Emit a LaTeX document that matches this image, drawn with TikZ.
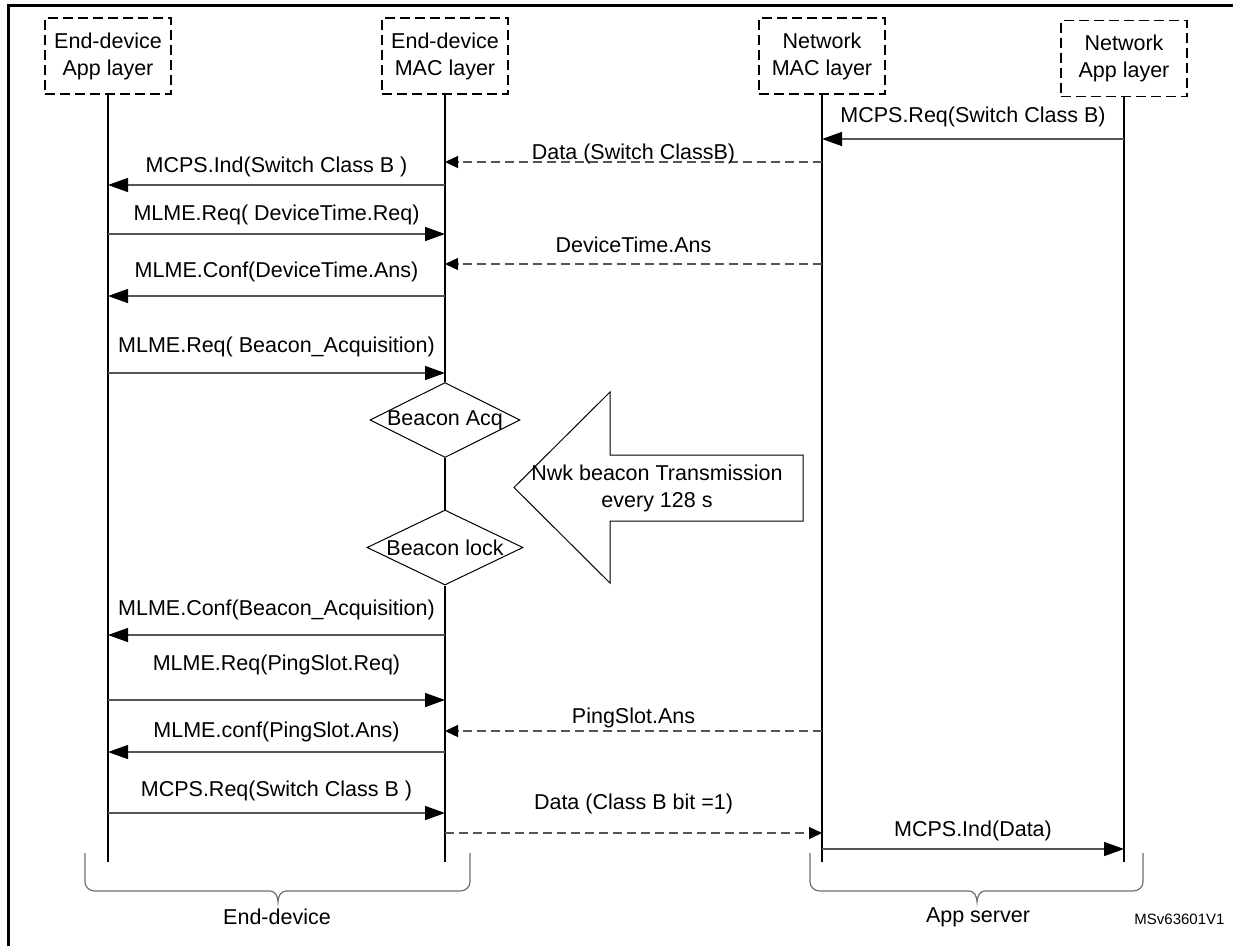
\documentclass[tikz,border=0pt]{standalone}
\usepackage{fontspec}
\setmainfont{Liberation Sans}
\usetikzlibrary{arrows.meta,shapes.geometric}
\definecolor{msgline}{RGB}{85,85,85}
\definecolor{bracegray}{RGB}{110,110,110}
\begin{document}
\begin{tikzpicture}[x=1pt,y=-1pt,
  every node/.style={font=\fontsize{21.5}{27}\selectfont},
  layerbox/.style={draw, dash pattern=on 10pt off 5pt, line width=1.1pt,
    minimum width=126pt, minimum height=76pt, align=center, inner sep=0pt},
  life/.style={line width=1.2pt},
  msg/.style={draw=msgline, line width=1.5pt,
    -{Triangle[length=20pt,width=14pt,color=black]}},
  reply/.style={draw=msgline, line width=1.3pt, dash pattern=on 9pt off 5pt,
    -{Triangle[length=13pt,width=12pt,color=black]}},
  lbl/.style={pos=0.5, inner sep=0pt, text height=15pt, text depth=0pt},
  dia/.style={draw, shape=diamond, line width=1pt, inner sep=0pt},
  brace/.style={draw=bracegray, line width=1.2pt},
]
\useasboundingbox (0,0) rectangle (1233,946);

% outer frame
\draw[line width=3pt] (8,946) -- (8,5) -- (1233,5);

% layer boxes
\node[layerbox] (eapp) at (108,56)   {End-device\\App layer};
\node[layerbox] (emac) at (445,56)   {End-device\\MAC layer};
\node[layerbox] (nmac) at (822,56)   {Network\\MAC layer};
\node[layerbox] (napp) at (1124,58.5) {Network\\App layer};

% lifeline ends
\coordinate (eappEnd) at (108,862);
\coordinate (emacEnd) at (445,862);
\coordinate (nmacEnd) at (822,862);
\coordinate (nappEnd) at (1124,862);

% beacon states on the end-device MAC lifeline
\node[dia, minimum width=150pt, minimum height=75pt,
      label={[inner sep=0pt]center:Beacon Acq}] (acq) at (445,420) {};
\node[dia, minimum width=156pt, minimum height=75pt,
      label={[inner sep=0pt]center:Beacon lock}] (lock) at (445,547.5) {};

% lifelines
\draw[life] (eapp.south) -- (eappEnd);
\draw[life] (emac.south) -- (acq.north);
\draw[life] (acq.south) -- (lock.north);
\draw[life] (lock.south) -- (emacEnd);
\draw[life] (nmac.south) -- (nmacEnd);
\draw[life] (napp.south) -- (nappEnd);

% messages
\draw[msg] (napp |- 0,139) -- node[lbl,yshift=24pt]{MCPS.Req(Switch Class B)} (nmac |- 0,139);
\draw[reply] (nmac |- 0,162) -- node[lbl,yshift=10pt]{Data (Switch ClassB)} (emac |- 0,162);
\draw[msg] (emac |- 0,185) -- node[lbl,yshift=20pt]{MCPS.Ind(Switch Class B )} (eapp |- 0,185);
\draw[msg] (eapp |- 0,234) -- node[lbl,yshift=21pt]{MLME.Req( DeviceTime.Req)} (emac |- 0,234);
\draw[reply] (nmac |- 0,264) -- node[lbl,yshift=19pt]{DeviceTime.Ans} (emac |- 0,264);
\draw[msg] (emac |- 0,296) -- node[lbl,yshift=26pt]{MLME.Conf(DeviceTime.Ans)} (eapp |- 0,296);
\draw[msg] (eapp |- 0,373) -- node[lbl,yshift=28pt]{MLME.Req( Beacon\_Acquisition)} (emac |- 0,373);

% network beacon broadcast
\draw[line width=1pt] (514,487.5) -- (610,392) -- (610,455) -- (803,455)
  -- (803,521) -- (610,521) -- (610,583) -- cycle;
\node[align=center, inner sep=0pt] (bcn) at (657,488) {Nwk beacon Transmission\\every 128 s};

\draw[msg] (emac |- 0,635) -- node[lbl,yshift=27pt]{MLME.Conf(Beacon\_Acquisition)} (eapp |- 0,635);
\draw[msg] (eapp |- 0,700) -- node[lbl,yshift=37pt]{MLME.Req(PingSlot.Req)} (emac |- 0,700);
\draw[reply] (nmac |- 0,731) -- node[lbl,yshift=15pt]{PingSlot.Ans} (emac |- 0,731);
\draw[msg] (emac |- 0,752) -- node[lbl,yshift=22pt]{MLME.conf(PingSlot.Ans)} (eapp |- 0,752);
\draw[msg] (eapp |- 0,813) -- node[lbl,yshift=24pt]{MCPS.Req(Switch Class B )} (emac |- 0,813);
\draw[reply] (emac |- 0,833) -- node[lbl,yshift=31pt]{Data (Class B bit =1)} (nmac |- 0,833);
\draw[msg] (nmac |- 0,849) -- node[lbl,yshift=20pt]{MCPS.Ind(Data)} (napp |- 0,849);

% grouping braces
\draw[brace] (85,853) -- (85,882) to[out=-90,in=180] (95,891) -- (270,891)
  to[out=0,in=90] (278,902) to[out=90,in=180] (286,891) -- (460,891)
  to[out=0,in=-90] (470,882) -- (470,853);
\draw[brace] (810,853) -- (810,882) to[out=-90,in=180] (820,891) -- (969,891)
  to[out=0,in=90] (977,902) to[out=90,in=180] (985,891) -- (1133,891)
  to[out=0,in=-90] (1143,882) -- (1143,853);
\node (grpDev) at (277,917) {End-device};
\node (grpSrv) at (978,917) {App server};
\node[anchor=east, font=\fontsize{15}{18}\selectfont] (ref) at (1228,919) {MSv63601V1};
\end{tikzpicture}
\end{document}
